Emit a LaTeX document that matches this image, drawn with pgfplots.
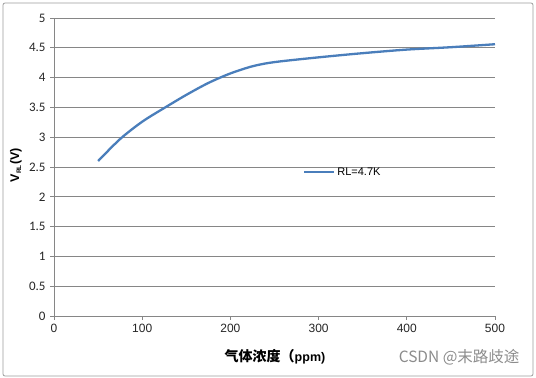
\documentclass[border=0pt]{standalone}
\usepackage{pgfplots}
\pgfplotsset{compat=1.18}
\usepackage{fontspec}
\setmainfont{Carlito}
\newfontfamily\cjk{Noto Sans CJK SC}
\newfontfamily\arialf{Liberation Sans}
\definecolor{lineblue}{HTML}{4A7EBB}
\definecolor{axgray}{HTML}{868686}
\begin{document}
\begin{tikzpicture}
\fill[white] (0,0) rectangle (536bp,378bp);
\draw[axgray!80, line width=0.8bp, rounded corners=2bp] (3bp,2bp) rectangle (533bp,375bp);
\begin{axis}[
  at={(54bp,62bp)}, anchor=south west,
  scale only axis, width=441bp, height=298bp,
  xmin=0, xmax=500, ymin=0, ymax=5,
  xtick={0,100,...,500}, ytick={0,0.5,...,5},
  axis x line*=bottom, axis y line*=left,
  axis line style={axgray, line width=0.8bp, -},
  tick style={axgray, line width=0.8bp},
  tick align=outside, major tick length=4bp,
  ymajorgrids, grid style={axgray, line width=0.8bp},
  /pgf/number format/assume math mode=true,
  yticklabel style={font=\fontsize{13bp}{15bp}\selectfont, text=black!85, xshift=-1bp},
  xticklabel style={font=\arialf\fontsize{12bp}{14bp}\selectfont, text=black!85, yshift=-1bp},
  yticklabel={\pgfmathprintnumber[fixed,precision=1]{\tick}},
  legend style={draw=none, fill=none, at={(0.565,0.483)}, anchor=west, font=\arialf\fontsize{11bp}{13bp}\selectfont, inner sep=0pt},
  legend image code/.code={\draw[#1, line width=2bp] (0bp,0bp) -- (30bp,0bp);},
]
\addplot[lineblue, line width=2.3bp, smooth, tension=0.5] coordinates {
(50,2.60) (75,2.97) (100,3.26) (125,3.49) (150,3.71) (175,3.91) (200,4.07) (225,4.19) (250,4.26) (300,4.34) (350,4.41) (400,4.47) (450,4.51) (500,4.56)};
\addlegendentry{RL=4.7K}
\end{axis}
\node[rotate=90, font=\arialf\bfseries\fontsize{12.5bp}{14bp}\selectfont] at (16bp,213bp) {V\textsubscript{\fontsize{6.5bp}{7bp}\selectfont RL}(V)};
\node[font=\bfseries\fontsize{14bp}{16bp}\selectfont] at (275bp,21bp) {{\cjk\bfseries 气体浓度（}{\arialf\bfseries\fontsize{12.5bp}{14bp}\selectfont ppm)}};
\node[anchor=east, text=black!45, font=\cjk\fontsize{15.5bp}{17bp}\selectfont] at (523bp,21bp) {CSDN @末路歧途};
\end{tikzpicture}
\end{document}
